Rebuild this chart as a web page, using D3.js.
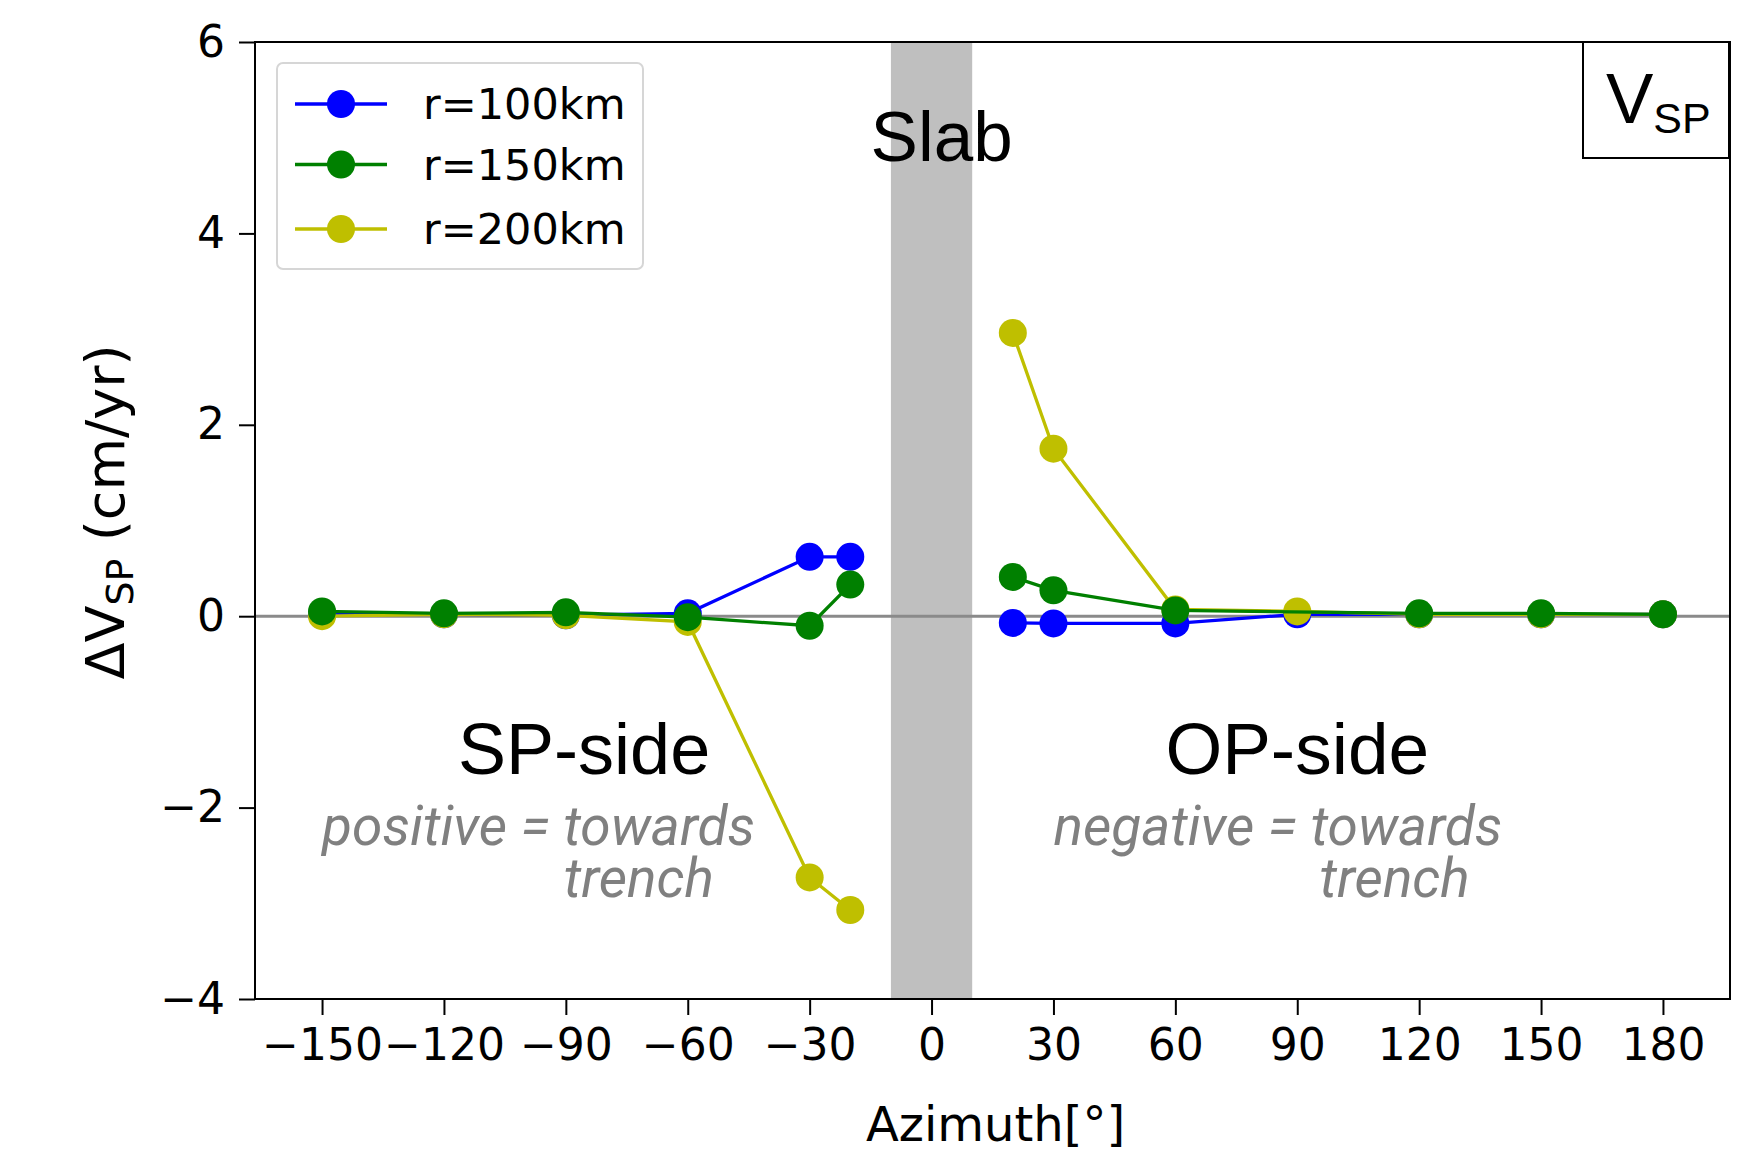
<!DOCTYPE html>
<html>
<head>
<meta charset="utf-8">
<script src="https://cdn.jsdelivr.net/npm/d3@7"></script>
<style>
  html, body { margin: 0; padding: 0; background: #fff; }
  svg { display: block; }
  .tick text { font-family: "DejaVu Sans", sans-serif; }
</style>
</head>
<body>
<svg id="chart" width="1764" height="1167"></svg>
<script>
// Azimuth of each sampling point (degrees)
const azimuths = [-150, -120, -90, -60, -30, -20, 20, 30, 60, 90, 120, 150, 180];

// Change of subducting-plate velocity (cm/yr) for each radius (null = not sampled)
const seriesNames = ["r=100km", "r=150km", "r=200km"];
const r100 = [0.02, 0.02, 0.01, 0.03, 0.62, 0.62, -0.07, -0.075, -0.075, 0.02, 0.02, 0.02, 0.02];
const r150 = [0.05, 0.03, 0.04, -0.01, -0.10, 0.33, 0.41, 0.27, 0.06, null, 0.03, 0.03, 0.02];
const r200 = [0.00, 0.02, 0.01, -0.06, -2.73, -3.07, 2.96, 1.75, 0.07, 0.05, 0.02, 0.02, 0.02];

const xTicks = [-150, -120, -90, -60, -30, 0, 30, 60, 90, 120, 150, 180];
const yTicks = [-4, -2, 0, 2, 4, 6];
const slabRange = [-10, 10];

const colors = ["#0000ff", "#008000", "#bfbf00"];
const seriesValues = [r100, r150, r200];

const svg = d3.select("#chart");
const L = 255, R = 1730, T = 42, B = 999;

const x = d3.scaleLinear().domain([-166.5, 196.5]).range([L, R]);
const y = d3.scaleLinear().domain([-4, 6]).range([B, T]);

const plot = svg.append("g");
plot.append("clipPath").attr("id", "clip")
  .append("rect").attr("x", L).attr("y", T).attr("width", R - L).attr("height", B - T);

// Slab band
plot.append("rect")
  .attr("x", x(slabRange[0])).attr("y", T)
  .attr("width", x(slabRange[1]) - x(slabRange[0])).attr("height", B - T)
  .attr("fill", "#bfbfbf");

// Zero reference line
plot.append("line")
  .attr("x1", L).attr("x2", R).attr("y1", y(0)).attr("y2", y(0))
  .attr("stroke", "#8a8a8a").attr("stroke-width", 3);

// Annotations
const ann = svg.append("g");
ann.append("text").attr("x", x(-15)).attr("y", y(4.76))
  .attr("font-family", "Liberation Sans, Arial, sans-serif").attr("font-size", 71)
  .attr("fill", "#000").text("Slab");
ann.append("text").attr("x", x(-85.5)).attr("y", y(-1.65)).attr("text-anchor", "middle")
  .attr("font-family", "Liberation Sans, Arial, sans-serif").attr("font-size", 72)
  .attr("fill", "#000").text("SP-side");
ann.append("text").attr("x", x(90)).attr("y", y(-1.65)).attr("text-anchor", "middle")
  .attr("font-family", "Liberation Sans, Arial, sans-serif").attr("font-size", 73)
  .attr("fill", "#000").text("OP-side");

const noteStyle = t => t.attr("font-family", "Roboto, sans-serif").attr("font-style", "italic")
  .attr("font-size", 55).attr("fill", "#808080");
noteStyle(ann.append("text").attr("x", x(-150)).attr("y", y(-2.39)).text("positive = towards"));
noteStyle(ann.append("text").attr("x", x(-90.5)).attr("y", y(-2.93)).text("trench"));
noteStyle(ann.append("text").attr("x", x(30)).attr("y", y(-2.39)).text("negative = towards"));
noteStyle(ann.append("text").attr("x", x(95.5)).attr("y", y(-2.93)).text("trench"));

// Data lines: the two sides of the slab are separate segments
const line = d3.line().x(d => x(d.az)).y(d => y(d.v));
const drawOrder = [0, 2, 1];
const layers = drawOrder.map(i => {
  const pts = azimuths.map((az, k) => ({ az, v: seriesValues[i][k] })).filter(p => p.v !== null);
  return { i, left: pts.filter(p => p.az < 0), right: pts.filter(p => p.az > 0), pts };
});
const dataG = plot.append("g").attr("clip-path", "url(#clip)");
layers.forEach(s => {
  const g = dataG.append("g");
  [s.left, s.right].forEach(seg => {
    g.append("path").attr("d", line(seg)).attr("fill", "none")
      .attr("stroke", colors[s.i]).attr("stroke-width", 3.3);
  });
  g.selectAll("circle").data(s.pts).join("circle")
    .attr("cx", d => x(d.az)).attr("cy", d => y(d.v)).attr("r", 14)
    .attr("fill", colors[s.i]);
});

// Frame
svg.append("rect").attr("x", L).attr("y", T).attr("width", R - L).attr("height", B - T)
  .attr("fill", "none").attr("stroke", "#000").attr("stroke-width", 2);

// Axes
const fmt = d => d < 0 ? "\u2212" + Math.abs(d) : String(d);
const xAxis = svg.append("g").attr("transform", `translate(0,${B})`)
  .call(d3.axisBottom(x).tickValues(xTicks).tickFormat(fmt).tickSize(16).tickPadding(14));
const yAxis = svg.append("g").attr("transform", `translate(${L},0)`)
  .call(d3.axisLeft(y).tickValues(yTicks).tickFormat(fmt).tickSize(16).tickPadding(14));
[xAxis, yAxis].forEach(a => {
  a.select(".domain").remove();
  a.selectAll(".tick line").attr("stroke", "#000").attr("stroke-width", 2);
  a.selectAll(".tick text").attr("font-size", 44).attr("fill", "#000");
});

// Axis titles
svg.append("text").attr("x", (L + R) / 2 + 3).attr("y", 1141).attr("text-anchor", "middle")
  .attr("font-family", "DejaVu Sans, sans-serif").attr("font-size", 48).text("Azimuth[°]");
const yl = svg.append("text").attr("transform", `translate(124,512) rotate(-90)`)
  .attr("text-anchor", "middle").attr("font-family", "DejaVu Sans, sans-serif").attr("font-size", 54);
yl.append("tspan").text("\u0394V");
yl.append("tspan").attr("font-size", 38).attr("dy", 9).text("SP");
yl.append("tspan").attr("dy", -9).text(" (cm/yr)");

// Legend
const leg = svg.append("g");
leg.append("rect").attr("x", 277).attr("y", 63).attr("width", 366).attr("height", 206)
  .attr("rx", 6).attr("fill", "rgba(255,255,255,0.8)").attr("stroke", "#d6d6d6").attr("stroke-width", 2);
const rowY = [104, 164.5, 229];
seriesNames.forEach((name, i) => {
  leg.append("line").attr("x1", 295).attr("x2", 387).attr("y1", rowY[i]).attr("y2", rowY[i])
    .attr("stroke", colors[i]).attr("stroke-width", 3.3);
  leg.append("circle").attr("cx", 341).attr("cy", rowY[i]).attr("r", 14).attr("fill", colors[i]);
  leg.append("text").attr("x", 423).attr("y", rowY[i] + 15)
    .attr("font-family", "DejaVu Sans, sans-serif").attr("font-size", 43).text(name);
});

// Quantity label box
const box = svg.append("g");
box.append("rect").attr("x", 1583).attr("y", 42).attr("width", 146).attr("height", 116)
  .attr("fill", "#fff").attr("stroke", "#000").attr("stroke-width", 2);
const bt = box.append("text").attr("x", 1606).attr("y", 123)
  .attr("font-family", "Liberation Sans, Arial, sans-serif").attr("font-size", 71);
bt.append("tspan").text("V");
bt.append("tspan").attr("font-size", 43).attr("dy", 10).text("SP");
</script>
</body>
</html>
